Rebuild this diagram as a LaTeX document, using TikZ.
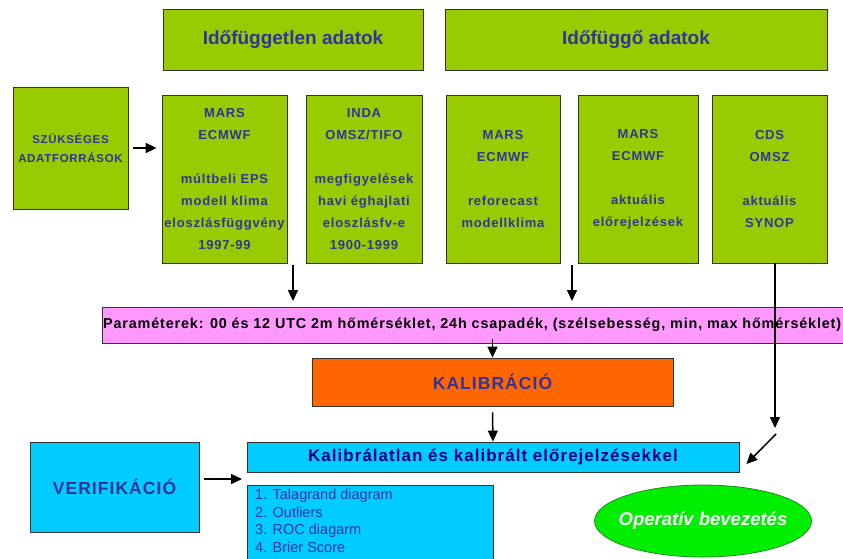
\documentclass[tikz,border=0pt]{standalone}
\usepackage{fontspec}
\setmainfont{Liberation Sans}
\usetikzlibrary{arrows.meta,shapes.geometric}
\definecolor{boxgreen}{HTML}{99CC00}
\definecolor{txtblue}{HTML}{333399}
\definecolor{pinkbox}{HTML}{FF99FF}
\definecolor{orangebox}{HTML}{FF6600}
\definecolor{cyanbox}{HTML}{00CCFF}
\definecolor{navytxt}{HTML}{000080}
\definecolor{listtxt}{HTML}{3333AA}
\definecolor{ellgreen}{HTML}{00EE00}
\definecolor{ellborder}{HTML}{228822}
\definecolor{edgegray}{HTML}{333333}
\newfontfamily\spacedfont[LetterSpace=6]{Liberation Sans}
\tikzset{
  gbox/.style={draw=edgegray, line width=0.8pt, fill=boxgreen, inner sep=0pt, align=center, text=txtblue, font=\spacedfont\bfseries\fontsize{13}{22}\selectfont},
  hbox/.style={gbox, font=\bfseries\fontsize{19}{22}\selectfont},
  bigtxt/.style={font=\spacedfont\bfseries\fontsize{17.5}{20}\selectfont},
  arr/.style={line width=1.5pt, -{Triangle[length=11pt,width=10pt]}}
}
\begin{document}
\begin{tikzpicture}[x=1pt,y=-1pt]
\useasboundingbox (0,0) rectangle (843,558);
\clip (0,0) rectangle (843,558);
% headers
\node[hbox, minimum width=260pt, minimum height=61pt] (h1) at (293,39.5) {Időfüggetlen adatok};
\node[hbox, minimum width=382pt, minimum height=61pt] (h2) at (636,39.5) {Időfüggő adatok};
% source boxes
\node[gbox, minimum width=115pt, minimum height=122pt, font=\spacedfont\bfseries\fontsize{11.5}{19}\selectfont] (szuk) at (70.5,148) {SZÜKSÉGES\\ADATFORRÁSOK};
\node[gbox, minimum width=125pt, minimum height=168pt] (m1) at (224.5,179) {MARS\\ECMWF\\[22pt]múltbeli EPS\\modell klima\\eloszlásfüggvény\\1997-99};
\node[gbox, minimum width=116pt, minimum height=168pt] (inda) at (364,179) {INDA\\OMSZ/TIFO\\[22pt]megfigyelések\\havi éghajlati\\eloszlásfv-e\\1900-1999};
\node[gbox, minimum width=114pt, minimum height=168pt] (m2) at (503,179) {MARS\\ECMWF\\[22pt]reforecast\\modellklima};
\node[gbox, minimum width=120pt, minimum height=168pt] (m3) at (638,179) {MARS\\ECMWF\\[22pt]aktuális\\előrejelzések};
\node[gbox, minimum width=115pt, minimum height=168pt] (cds) at (769.5,179) {CDS\\OMSZ\\[22pt]aktuális\\SYNOP};
% parameters
\node[draw=edgegray, line width=0.8pt, fill=pinkbox, minimum width=746pt, minimum height=36pt, inner sep=0pt] (pink) at (475,325) {};
\node[anchor=west, inner sep=0pt, text=black] (ptxt) at (103,325) {\resizebox{738pt}{!}{\spacedfont\bfseries\fontsize{13}{15}\selectfont Paraméterek: 00 és 12 UTC 2m hőmérséklet, 24h csapadék, (szélsebesség, min, max hőmérséklet)}};
% calibration
\node[draw=edgegray, line width=0.8pt, fill=orangebox, minimum width=361pt, minimum height=48pt, inner sep=0pt, text=txtblue, bigtxt] (kal) at (492.5,382) {KALIBRÁCIÓ};
\node[draw=edgegray, line width=0.8pt, fill=cyanbox, minimum width=492pt, minimum height=30pt, inner sep=0pt, text=navytxt, font=\spacedfont\bfseries\fontsize{17}{20}\selectfont] (klb) at (493,457) {Kalibrálatlan és kalibrált előrejelzésekkel};
\node[draw=edgegray, line width=0.8pt, fill=cyanbox, minimum width=169pt, minimum height=90pt, inner sep=0pt, text=txtblue, font=\spacedfont\bfseries\fontsize{17.5}{20}\selectfont] (verif) at (114.5,487) {VERIFIKÁCIÓ};
\node[draw=edgegray, line width=0.8pt, fill=cyanbox, minimum width=246pt, minimum height=95pt, inner sep=0pt, anchor=north west] (list) at (247,485) {};
\node[anchor=north west, inner sep=0pt, align=left, text=listtxt, font=\fontsize{14.5}{17.5}\selectfont] (ltxt) at (255,489) {1. Talagrand diagram\\2. Outliers\\3. ROC diagarm\\4. Brier Score};
\node[ellipse, draw=ellborder, line width=0.8pt, fill=ellgreen, minimum width=217pt, minimum height=72pt, inner sep=0pt] (oper) at (703,521) {};
\node[text=white, inner sep=0pt, font=\bfseries\itshape\fontsize{18.5}{20}\selectfont] (opertxt) at (oper.center) {Operatív bevezetés};
% coordinates for free ends
\coordinate (a1s) at (293,265);
\coordinate (a1e) at (293,301);
\coordinate (a2s) at (572,265);
\coordinate (a2e) at (572,301);
\coordinate (cdsbot) at (775,263);
\coordinate (cdse) at (775,428);
\coordinate (ds) at (776,434);
% connectors
\draw[arr] ([xshift=5pt]szuk.east) -- ([xshift=-5pt]m1.west |- szuk.east);
\draw[arr] (a1s) -- (a1e);
\draw[arr] (a2s) -- (a2e);
\draw[arr] (cdsbot) -- (cdse);
\draw[arr] ([yshift=4pt]pink.south -| kal.north) -- (kal.north);
\draw[arr] ([yshift=-6pt]kal.south) -- (klb.north);
\draw[arr] (ds) -- ([xshift=7pt,yshift=-7pt]klb.east);
\draw[arr] ([xshift=5pt,yshift=8pt]verif.east) -- ([xshift=-5pt,yshift=8pt]list.west |- verif.east);
\end{tikzpicture}
\end{document}
